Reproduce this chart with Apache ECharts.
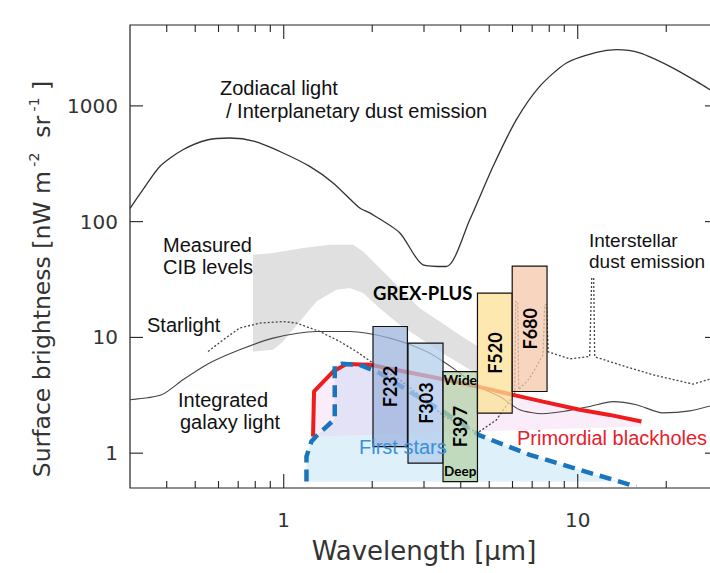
<!DOCTYPE html>
<html>
<head>
<meta charset="utf-8">
<script src="https://cdn.jsdelivr.net/npm/echarts@6/dist/echarts.min.js"></script>
<style>html,body{margin:0;padding:0;background:#fff}#c{width:710px;height:573px}</style>
</head>
<body>
<div id="c"></div>
<script>
// ---------------- axis ranges & ticks ----------------
const X_MIN = 0.3, X_MAX = 30, Y_MIN = 0.5, Y_MAX = 5000;
const xMajorTicks = [1, 10];
const xMinorTicks = [0.4, 0.5, 0.6, 0.7, 0.8, 0.9, 2, 3, 4, 5, 6, 7, 8, 9, 20];
const yMajorTicks = [1, 10, 100, 1000];

// ---------------- curves (wavelength [um], brightness) ----------------
const zodiLambda = [0.30, 0.332, 0.379, 0.454, 0.553, 0.655, 0.797, 0.995, 1.226, 1.472, 1.814, 1.961, 2.48, 2.978, 3.576, 4.293, 5.151, 6.186, 7.425, 9.155, 11.58, 13.54, 16.25, 20.56, 25.33, 30];
const zodiValue  = [130, 189, 300, 418, 510, 528, 493, 392, 300, 216, 131, 119, 80.2, 42.4, 41.0, 104, 300, 760, 1475, 2349, 2900, 3060, 2866, 2195, 1628, 1250];

const galLambda = [0.30, 0.384, 0.454, 0.56, 0.708, 0.92, 1.292, 1.677, 2.294, 3.058, 3.766, 4.58, 5.43, 6.35, 7.60, 9.03, 10.98, 13.18, 15.84, 19.46, 24.04, 30];
const galValue  = [2.89, 3.19, 4.30, 6.0, 7.81, 9.86, 11.25, 11.25, 9.86, 7.55, 5.43, 3.76, 3.09, 2.37, 2.19, 2.30, 2.53, 2.79, 2.62, 2.23, 2.32, 2.67];

const dustLambda = [0.553, 0.622, 0.708, 0.829, 1.0, 1.105, 1.326, 1.551, 1.767, 2.012, 2.48, 3.138, 3.48, 3.968, 4.57, 5.29, 5.965, 6.107, 6.152, 6.25, 6.30, 6.87, 7.62, 7.72, 7.83, 7.93, 9.39, 10.98, 11.16, 11.33, 11.42, 13.9, 18.03, 24.67, 30];
const dustValue  = [7.55, 9.53, 12.04, 13.3, 13.7, 13.3, 11.25, 9.22, 7.55, 6.0, 4.30, 2.72, 2.10, 1.78, 1.50, 1.94, 3.01, 3.32, 20.4, 20.4, 3.53, 4.45, 7.07, 19.1, 19.1, 7.51, 6.53, 6.84, 32.6, 32.6, 6.80, 5.80, 4.75, 3.95, 4.57];

const pbhLambda = [1.258, 1.268, 1.472, 1.634, 1.961, 3.138, 4.58, 6.026, 7.62, 10.16, 12.85, 16.47];
const pbhValue  = [1.39, 3.41, 5.07, 5.88, 5.80, 4.59, 3.76, 3.19, 2.79, 2.37, 2.14, 1.876];
const pbhFloorLambda = [16.47, 1.258];
const pbhFloorValue  = [1.70, 1.39];

const fsLambda = [1.195, 1.195, 1.242, 1.292, 1.491, 1.491, 1.571, 1.814, 2.121, 2.615, 3.482, 4.64, 6.87, 10.16, 15.84];
const fsValue  = [0.568, 0.935, 1.26, 1.41, 1.968, 5.68, 5.91, 5.80, 4.91, 3.53, 2.29, 1.425, 0.967, 0.717, 0.514];
const fsFillLambda = [1.195, 1.195, 1.242, 1.292, 1.491, 1.491, 1.571, 1.814, 2.121, 2.615, 3.482, 4.64, 6.87, 10.16, 13.86, 1.195];
const fsFillValue  = [0.568, 0.935, 1.26, 1.41, 1.968, 5.68, 5.91, 5.80, 4.91, 3.53, 2.29, 1.425, 0.967, 0.717, 0.568, 0.568];

const cibLambda = [0.786, 0.920, 1.163, 1.434, 1.721, 1.861, 2.121, 2.480, 2.901, 3.394, 3.968, 4.56,
                   4.56, 4.405, 3.868, 3.394, 2.901, 2.480, 2.121, 1.861, 1.677, 1.511, 1.292, 1.134, 0.995, 0.920, 0.786];
const cibValue  = [51.8, 53.5, 59.1, 63.1, 63.1, 55.3, 39.7, 26.7, 17.9, 13.7, 10.5, 8.4,
                   4.85, 5.07, 6.19, 7.55, 9.86, 12.85, 17.9, 24.15, 26.7, 25.8, 20.4, 13.7, 9.22, 7.81, 7.55];

// ---------------- GREX-PLUS filters ----------------
const filterNames  = ['F232', 'F303', 'F397', 'F520', 'F680'];
const filterLo     = [2.012, 2.647, 3.482, 4.56, 5.986];
const filterHi     = [2.635, 3.482, 4.56, 5.986, 7.864];
const filterBottom = [1.14, 0.82, 0.568, 2.217, 3.41];
const filterTop    = [12.42, 8.93, 5.07, 24.15, 41.3];
const filterTopNote    = ['', '', 'Wide', '', ''];
const filterBottomNote = ['', '', 'Deep', '', ''];
const filterColors = ['rgba(158,180,222,0.75)', 'rgba(179,206,235,0.75)', 'rgba(182,211,168,0.75)', 'rgba(252,226,148,0.75)', 'rgba(244,199,168,0.75)'];

// ---------------- helpers ----------------
const pairs = (xs, ys) => xs.map((x, i) => [x, ys[i]]);
const SANS = "'Liberation Sans', Arial, sans-serif";
const DEJA = "'DejaVu Sans', sans-serif";
const BOLD = "Lato, 'Open Sans', sans-serif";

function polygonSeries(pts, fill, z) {
  return {
    type: 'custom', coordinateSystem: 'cartesian2d', silent: true, z: z,
    data: [pts[0]],
    renderItem: (params, api) => ({
      type: 'polygon',
      shape: { points: pts.map(p => api.coord(p)) },
      style: { fill: fill, stroke: 'none' }
    })
  };
}
function lineSeries(pts, lineStyle, smooth, z) {
  return {
    type: 'line', data: pts, showSymbol: false, symbol: 'none', smooth: smooth,
    lineStyle: lineStyle, z: z, silent: true
  };
}

const cibPts = pairs(cibLambda, cibValue);
const fsFillPts = pairs(fsFillLambda, fsFillValue);
const pbhFillPts = pairs(pbhLambda, pbhValue).concat(pairs(pbhFloorLambda, pbhFloorValue));

const series = [
  polygonSeries(cibPts, '#e0e0e0', 1),
  polygonSeries(fsFillPts, 'rgb(222,240,250)', 1),
  polygonSeries(pbhFillPts, 'rgba(240,200,238,0.35)', 1),
  lineSeries(pairs(zodiLambda, zodiValue), { color: '#333', width: 1.3 }, 0.25, 3),
  lineSeries(pairs(galLambda, galValue), { color: '#444', width: 1.1 }, 0.25, 3),
  lineSeries(pairs(dustLambda, dustValue), { color: '#444', width: 1.3, type: [2, 2] }, false, 3),
  lineSeries(pairs(pbhLambda, pbhValue), { color: '#ee1c1c', width: 4 }, false, 4),
  lineSeries(pairs(fsLambda, fsValue), { color: '#1b75bc', width: 4.5, type: [12, 7] }, false, 4),
  {
    type: 'custom', coordinateSystem: 'cartesian2d', silent: true, z: 5,
    data: filterNames.map((n, i) => [filterLo[i], filterHi[i], filterBottom[i], filterTop[i], i]),
    renderItem: (params, api) => {
      const i = api.value(4);
      const p0 = api.coord([api.value(0), api.value(3)]);
      const p1 = api.coord([api.value(1), api.value(2)]);
      const cx = (p0[0] + p1[0]) / 2, cy = (p0[1] + p1[1]) / 2;
      const children = [
        { type: 'rect', shape: { x: p0[0], y: p0[1], width: p1[0] - p0[0], height: p1[1] - p0[1] },
          style: { fill: filterColors[i], stroke: '#111', lineWidth: 1.2 } },
        { type: 'text', x: cx, y: cy, rotation: Math.PI / 2,
          style: { text: filterNames[i], font: 'bold 18px ' + BOLD, fill: '#000', align: 'center', verticalAlign: 'middle', textAlign: 'center', textVerticalAlign: 'middle' } }
      ];
      if (filterTopNote[i]) children.push({ type: 'text', x: cx, y: p0[1] + 8,
          style: { text: filterTopNote[i], font: 'bold 14px ' + BOLD, fill: '#000', align: 'center', verticalAlign: 'middle', textAlign: 'center', textVerticalAlign: 'middle' } });
      if (filterBottomNote[i]) children.push({ type: 'text', x: cx, y: p1[1] - 11,
          style: { text: filterBottomNote[i], font: 'bold 13.5px ' + BOLD, fill: '#000', align: 'center', verticalAlign: 'middle', textAlign: 'center', textVerticalAlign: 'middle' } });
      return { type: 'group', children: children };
    }
  },
  {
    type: 'custom', coordinateSystem: 'cartesian2d', silent: true, z: 6,
    data: [[1, 1]],
    renderItem: (params, api) => {
      const els = [];
      const ln = (x1, y1, x2, y2) => ({ type: 'line', shape: { x1, y1, x2, y2 }, style: { stroke: '#222', lineWidth: 1.1 } });
      const addX = (v, len) => {
        const b = api.coord([v, Y_MIN]), t = api.coord([v, Y_MAX]);
        els.push(ln(b[0], b[1], b[0], b[1] - len));
        els.push(ln(t[0], t[1], t[0], t[1] + len));
      };
      xMajorTicks.forEach(v => addX(v, 14));
      xMinorTicks.forEach(v => addX(v, 7));
      yMajorTicks.forEach(v => {
        const l = api.coord([X_MIN, v]), r = api.coord([X_MAX, v]);
        els.push(ln(l[0], l[1], l[0] + 13, l[1]));
        els.push(ln(r[0], r[1], r[0] - 13, r[1]));
      });
      return { type: 'group', children: els };
    }
  }
];

function powLabel(v) {
  const l = Math.log10(v);
  return Math.abs(l - Math.round(l)) < 1e-6 ? String(Math.round(v)) : '';
}

function txt(text, x, y, size, color, extra) {
  return Object.assign({
    type: 'text', x: x, y: y, z: 100, silent: true,
    style: { text: text, font: size + 'px ' + SANS, fill: color, textAlign: 'left', textVerticalAlign: 'middle', align: 'left', verticalAlign: 'middle' }
  }, extra || {});
}

const option = {
  animation: false,
  backgroundColor: '#fff',
  grid: { left: 130, right: -8, top: 25, bottom: 85, show: true, borderColor: '#222', borderWidth: 1.2, backgroundColor: 'transparent', containLabel: false, outerBoundsMode: 'none' },
  xAxis: {
    type: 'log', logBase: 10, min: X_MIN, max: X_MAX,
    axisLine: { show: false }, axisTick: { show: false }, splitLine: { show: false }, minorTick: { show: false },
    axisLabel: { show: true, formatter: powLabel, showMinLabel: false, showMaxLabel: false, margin: 22, fontFamily: DEJA, fontSize: 20, color: '#333' }
  },
  yAxis: {
    type: 'log', logBase: 10, min: Y_MIN, max: Y_MAX,
    axisLine: { show: false }, axisTick: { show: false }, splitLine: { show: false }, minorTick: { show: false },
    axisLabel: { show: true, formatter: powLabel, showMinLabel: false, showMaxLabel: false, margin: 12, fontFamily: DEJA, fontSize: 20, color: '#333' }
  },
  series: series,
  graphic: [
    txt('Zodiacal light', 220, 88, 20, '#111'),
    txt('/ Interplanetary dust emission', 226, 111, 20, '#111'),
    txt('Measured', 163, 245, 20, '#111'),
    txt('CIB levels', 163, 267, 20, '#111'),
    txt('Starlight', 147, 325, 20, '#111'),
    txt('Integrated', 178, 400, 20, '#111'),
    txt('galaxy light', 180, 422, 20, '#111'),
    txt('Interstellar', 589, 240, 19, '#111'),
    txt('dust emission', 589, 261, 19, '#111'),
    txt('First stars', 359, 447, 20, '#3b8fd8'),
    txt('Primordial blackholes', 517, 438, 20, '#e8202a'),
    {
      type: 'text', x: 373, y: 293, z: 100, silent: true,
      style: { text: 'GREX-PLUS', font: 'bold 18.5px ' + BOLD, fill: '#000', textAlign: 'left', textVerticalAlign: 'middle', align: 'left', verticalAlign: 'middle' }
    },
    {
      type: 'text', x: 424, y: 551, z: 100, silent: true,
      style: { text: 'Wavelength [\u03bcm]', font: '26px ' + DEJA, fill: '#333', textAlign: 'center', textVerticalAlign: 'middle', align: 'center', verticalAlign: 'middle' }
    },
    {
      type: 'text', x: 42, y: 279, z: 100, silent: true, rotation: Math.PI / 2,
      style: {
        text: '{a|Surface brightness [nW m}{s| -2}{a|  sr}{s| -1}{a| ]}',
        textAlign: 'center', textVerticalAlign: 'middle', align: 'center', verticalAlign: 'middle',
        rich: {
          a: { fontFamily: DEJA, fontSize: 23.5, lineHeight: 30, fill: '#333', color: '#333' },
          s: { fontFamily: DEJA, fontSize: 14, lineHeight: 14, verticalAlign: 'top', fill: '#333', color: '#333' }
        }
      }
    }
  ]
};

const chart = echarts.init(document.getElementById('c'), null, { renderer: 'svg' });
chart.setOption(option);
</script>
</body>
</html>
